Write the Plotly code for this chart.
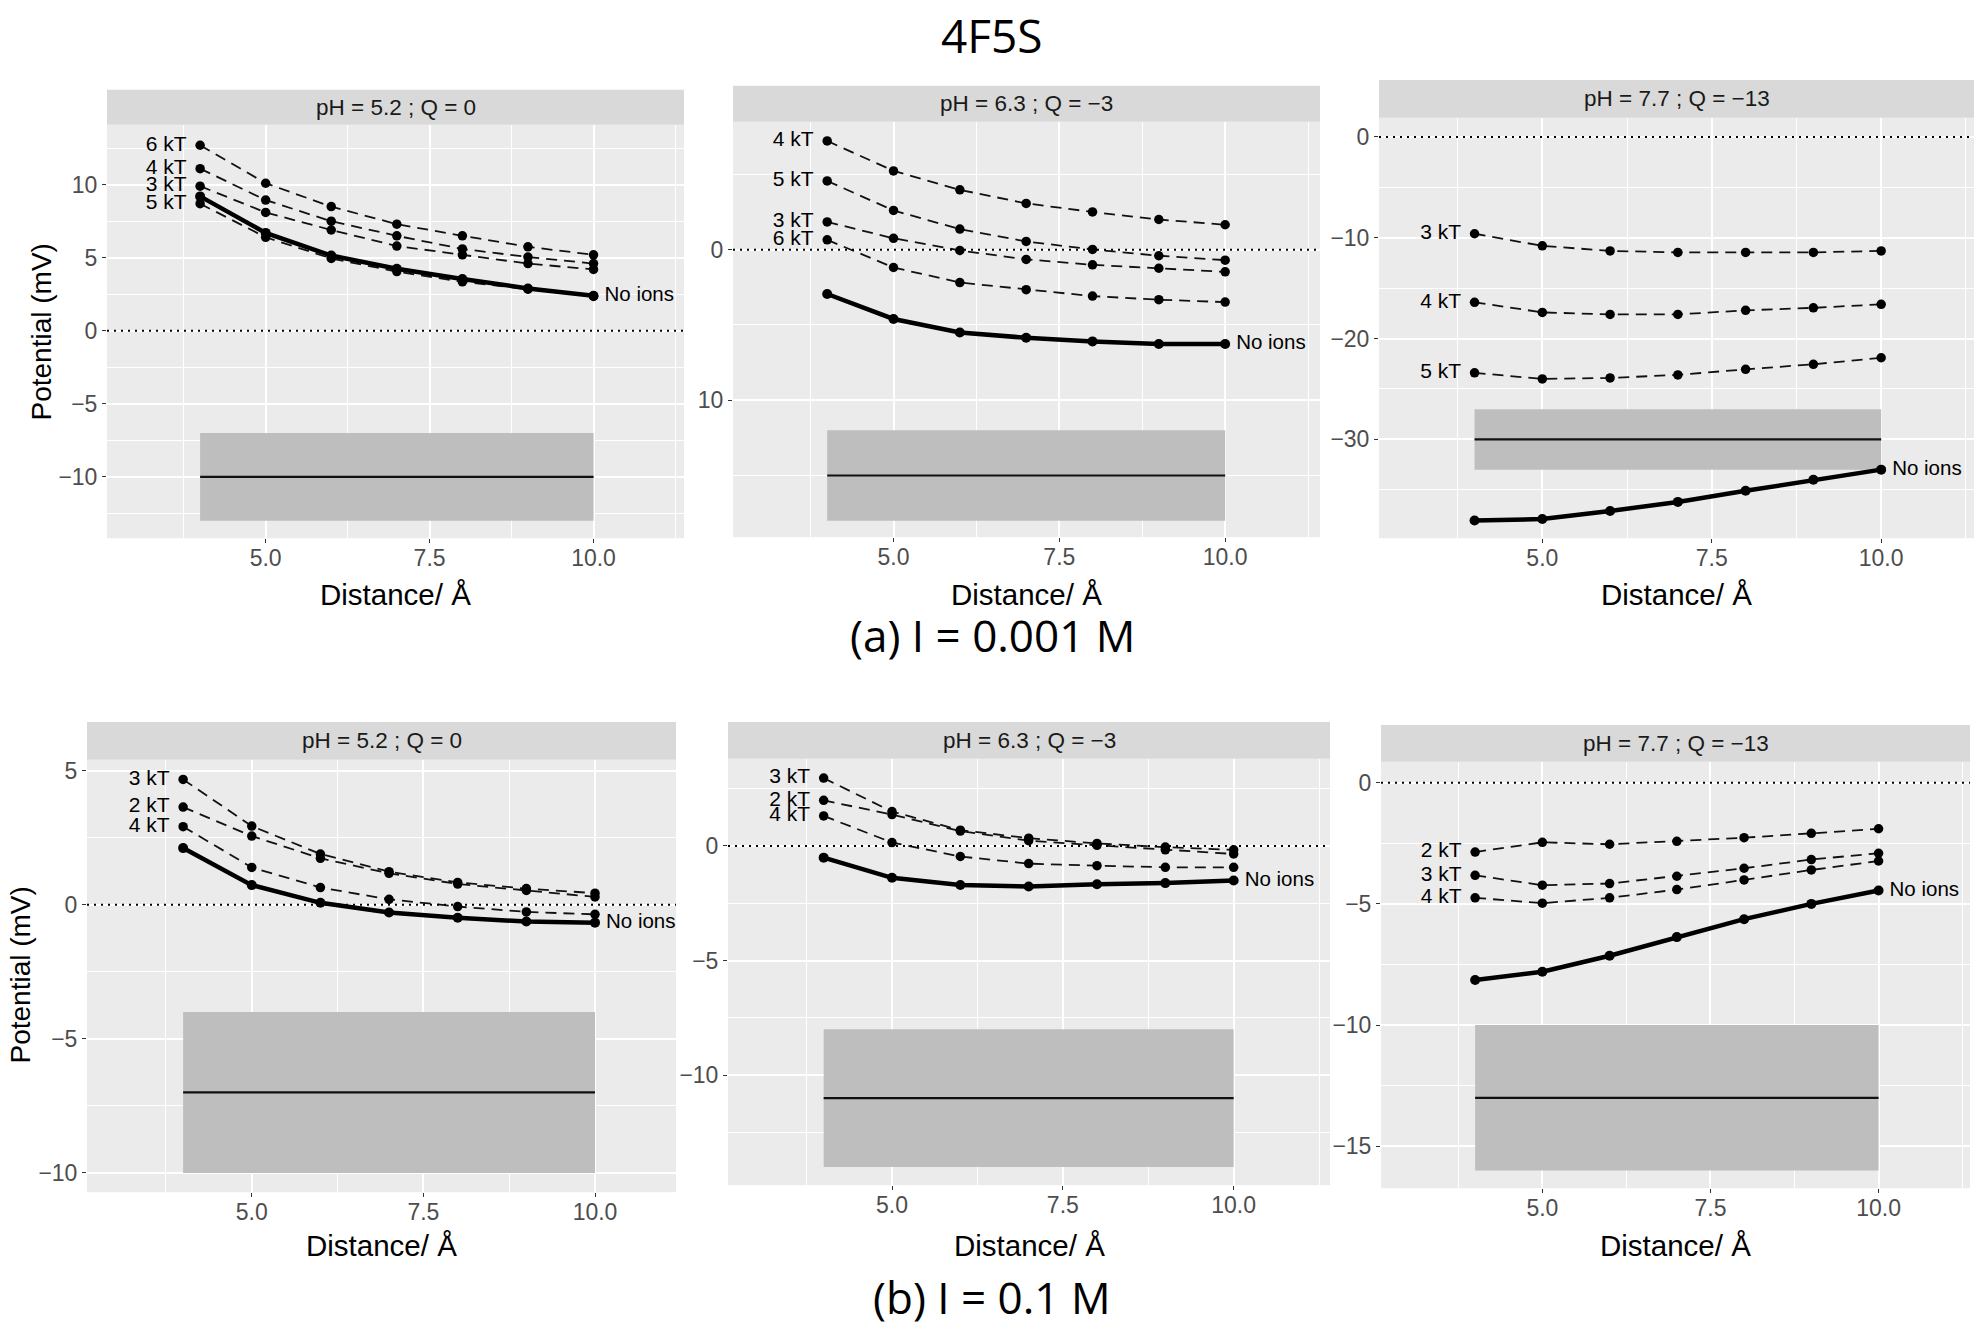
import plotly.graph_objects as go

W, H = 1984, 1329

# ---------------- data ----------------
distance = [4, 5, 6, 7, 8, 9, 10]
x_ticks = [5.0, 7.5, 10.0]
x_tick_labels = ["5.0", "7.5", "10.0"]
x_minor = [3.75, 6.25, 8.75, 11.25]

strip_labels = ["pH = 5.2 ; Q = 0", "pH = 6.3 ; Q = −3", "pH = 7.7 ; Q = −13",
                "pH = 5.2 ; Q = 0", "pH = 6.3 ; Q = −3", "pH = 7.7 ; Q = −13"]

# (a) I = 0.001 M
a1_names = ["6 kT", "4 kT", "3 kT", "5 kT"]
a1_6kT = [12.7, 10.1, 8.5, 7.3, 6.5, 5.75, 5.2]
a1_4kT = [11.1, 8.95, 7.5, 6.5, 5.6, 5.05, 4.6]
a1_3kT = [9.9, 8.1, 6.9, 5.8, 5.2, 4.6, 4.2]
a1_5kT = [8.7, 6.4, 4.95, 4.05, 3.35, 2.85, 2.35]
a1_noions = [9.2, 6.7, 5.15, 4.25, 3.55, 2.9, 2.4]
a1_box_median = -10

a2_names = ["4 kT", "5 kT", "3 kT", "6 kT"]
a2_4kT = [7.23, 5.24, 3.98, 3.08, 2.51, 2.01, 1.66]
a2_5kT = [4.57, 2.61, 1.37, 0.55, 0.02, -0.40, -0.69]
a2_3kT = [1.85, 0.76, -0.05, -0.64, -1.0, -1.23, -1.47]
a2_6kT = [0.66, -1.18, -2.18, -2.65, -3.08, -3.32, -3.48]
a2_noions = [-2.94, -4.6, -5.5, -5.85, -6.09, -6.26, -6.26]
a2_box_median = -15

a3_names = ["3 kT", "4 kT", "5 kT"]
a3_3kT = [-9.6, -10.8, -11.3, -11.45, -11.45, -11.45, -11.3]
a3_4kT = [-16.4, -17.4, -17.6, -17.6, -17.2, -16.95, -16.6]
a3_5kT = [-23.4, -24.0, -23.9, -23.6, -23.05, -22.55, -21.9]
a3_noions = [-38.05, -37.9, -37.1, -36.2, -35.1, -34.0, -33.0]
a3_box_median = -30

# (b) I = 0.1 M
b1_names = ["3 kT", "2 kT", "4 kT"]
b1_3kT = [4.67, 2.93, 1.89, 1.23, 0.83, 0.6, 0.43]
b1_2kT = [3.64, 2.56, 1.73, 1.17, 0.77, 0.53, 0.29]
b1_4kT = [2.91, 1.39, 0.64, 0.2, -0.07, -0.27, -0.36]
b1_noions = [2.11, 0.73, 0.07, -0.29, -0.49, -0.63, -0.67]
b1_box_median = -7

b2_names = ["3 kT", "2 kT", "4 kT"]
b2_3kT = [2.96, 1.5, 0.69, 0.34, 0.11, -0.05, -0.17]
b2_2kT = [1.99, 1.37, 0.65, 0.23, 0.03, -0.17, -0.35]
b2_4kT = [1.31, 0.15, -0.46, -0.77, -0.86, -0.93, -0.93]
b2_noions = [-0.51, -1.39, -1.70, -1.77, -1.67, -1.62, -1.51]
b2_box_median = -11

b3_names = ["2 kT", "3 kT", "4 kT"]
b3_2kT = [-2.86, -2.46, -2.54, -2.42, -2.27, -2.09, -1.90]
b3_3kT = [-3.82, -4.23, -4.16, -3.86, -3.53, -3.17, -2.91]
b3_4kT = [-4.75, -4.97, -4.75, -4.41, -4.01, -3.6, -3.23]
b3_noions = [-8.14, -7.8, -7.14, -6.37, -5.63, -5.0, -4.45]
b3_box_median = -13

box_half_height = 3

# y-axis ticks per panel
a1_yticks = [-10, -5, 0, 5, 10]
a1_ytext = ["−10", "−5", "0", "5", "10"]
a1_yminor = [-12.5, -7.5, -2.5, 2.5, 7.5, 12.5]
a2_yticks = [-10, 0]
a2_ytext = ["10", "0"]
a2_yminor = [-15, -5, 5]
a3_yticks = [-30, -20, -10, 0]
a3_ytext = ["−30", "−20", "−10", "0"]
a3_yminor = [-35, -25, -15, -5]
b1_yticks = [-10, -5, 0, 5]
b1_ytext = ["−10", "−5", "0", "5"]
b1_yminor = [-7.5, -2.5, 2.5]
b2_yticks = [-10, -5, 0]
b2_ytext = ["−10", "−5", "0"]
b2_yminor = [-12.5, -7.5, -2.5, 2.5]
b3_yticks = [-15, -10, -5, 0]
b3_ytext = ["−15", "−10", "−5", "0"]
b3_yminor = [-12.5, -7.5, -2.5]

# ---------------- layout geometry (pixels) ----------------
panels = [
    dict(names=a1_names, series=[a1_6kT, a1_4kT, a1_3kT, a1_5kT], noions=a1_noions, med=a1_box_median,
         yt=a1_yticks, ytx=a1_ytext, ym=a1_yminor,
         px=(107, 684), py=(123, 537), sy=(88, 123), xr=(2.58, 11.38), yr=(-14.2, 14.1)),
    dict(names=a2_names, series=[a2_4kT, a2_5kT, a2_3kT, a2_6kT], noions=a2_noions, med=a2_box_median,
         yt=a2_yticks, ytx=a2_ytext, ym=a2_yminor,
         px=(733, 1320), py=(120, 536), sy=(84, 120), xr=(2.58, 11.43), yr=(-19.1, 8.5)),
    dict(names=a3_names, series=[a3_3kT, a3_4kT, a3_5kT], noions=a3_noions, med=a3_box_median,
         yt=a3_yticks, ytx=a3_ytext, ym=a3_yminor,
         px=(1379, 1974), py=(116, 537), sy=(78, 116), xr=(2.59, 11.37), yr=(-39.8, 1.9)),
    dict(names=b1_names, series=[b1_3kT, b1_2kT, b1_4kT], noions=b1_noions, med=b1_box_median,
         yt=b1_yticks, ytx=b1_ytext, ym=b1_yminor,
         px=(87, 676), py=(759, 1192), sy=(721, 759), xr=(2.6, 11.18), yr=(-10.72, 5.4)),
    dict(names=b2_names, series=[b2_3kT, b2_2kT, b2_4kT], noions=b2_noions, med=b2_box_median,
         yt=b2_yticks, ytx=b2_ytext, ym=b2_yminor,
         px=(728, 1330), py=(758, 1185), sy=(721, 758), xr=(2.6, 11.41), yr=(-14.8, 3.8)),
    dict(names=b3_names, series=[b3_2kT, b3_3kT, b3_4kT], noions=b3_noions, med=b3_box_median,
         yt=b3_yticks, ytx=b3_ytext, ym=b3_yminor,
         px=(1381, 1970), py=(761, 1188), sy=(724, 761), xr=(2.6, 11.36), yr=(-16.73, 0.86)),
]

FONT = "Liberation Sans, Arial, Helvetica, sans-serif"
CAPFONT = "Open Sans, Noto Sans, sans-serif"
DASH = "11px,7px"

fig = go.Figure()
layout = dict(width=W, height=H, margin=dict(l=0, r=0, t=0, b=0),
              paper_bgcolor="white", plot_bgcolor="#ebebeb", showlegend=False,
              font=dict(family=FONT, color="#1a1a1a"))
shapes, annotations = [], []

def fx(p):
    return p / W

def fy(p):
    return 1 - p / H

axis_common = dict(tickmode="array", showgrid=True, gridcolor="white", gridwidth=1.5,
                   zeroline=False, showline=False, ticks="outside", ticklen=4, tickwidth=1.2,
                   tickcolor="#333333", tickfont=dict(size=23, color="#4d4d4d", family=FONT))

for i, P in enumerate(panels, start=1):
    sfx = "" if i == 1 else str(i)
    xa, ya = "x" + sfx, "y" + sfx
    # box (grey band with median line)
    d0, d1 = min(distance), max(distance)
    lo, hi = P["med"] - box_half_height, P["med"] + box_half_height
    fig.add_trace(go.Scatter(x=[d0, d1, d1, d0, d0], y=[lo, lo, hi, hi, lo], mode="lines",
                             fill="toself", fillcolor="#bebebe", line=dict(width=0),
                             xaxis=xa, yaxis=ya, hoverinfo="skip"))
    fig.add_trace(go.Scatter(x=[d0, d1], y=[P["med"], P["med"]], mode="lines",
                             line=dict(color="#111111", width=2.2), xaxis=xa, yaxis=ya))
    # dashed ion series
    for s in P["series"]:
        fig.add_trace(go.Scatter(x=distance, y=s, mode="lines+markers",
                                 line=dict(color="#111111", width=1.8, dash=DASH),
                                 marker=dict(color="#000000", size=9.5),
                                 xaxis=xa, yaxis=ya))
    # no ions
    fig.add_trace(go.Scatter(x=distance, y=P["noions"], mode="lines+markers",
                             line=dict(color="#000000", width=4.5),
                             marker=dict(color="#000000", size=10),
                             xaxis=xa, yaxis=ya))
    # labels
    fig.add_trace(go.Scatter(x=[distance[0]] * len(P["names"]), y=[s[0] for s in P["series"]],
                             text=P["names"], mode="markers+text", textposition="middle left",
                             marker=dict(size=20, color="rgba(0,0,0,0)"),
                             textfont=dict(size=21, color="#000000", family=FONT),
                             xaxis=xa, yaxis=ya, hoverinfo="skip"))
    fig.add_trace(go.Scatter(x=[distance[-1]], y=[P["noions"][-1]], text=["No ions"],
                             mode="markers+text", textposition="middle right",
                             marker=dict(size=16, color="rgba(0,0,0,0)"),
                             textfont=dict(size=20.5, color="#000000", family=FONT),
                             xaxis=xa, yaxis=ya, hoverinfo="skip"))

    layout["xaxis" + sfx] = dict(axis_common, domain=[fx(P["px"][0]), fx(P["px"][1])], anchor=ya,
                                 range=list(P["xr"]), tickvals=x_ticks, ticktext=x_tick_labels,
                                 ticklabelstandoff=-5,
                                 minor=dict(tickmode="array", tickvals=x_minor, showgrid=True,
                                            gridcolor="white", gridwidth=0.7, ticks=""))
    layout["yaxis" + sfx] = dict(axis_common, domain=[fy(P["py"][1]), fy(P["py"][0])], anchor=xa,
                                 range=list(P["yr"]), tickvals=P["yt"], ticktext=P["ytx"],
                                 minor=dict(tickmode="array", tickvals=P["ym"], showgrid=True,
                                            gridcolor="white", gridwidth=0.7, ticks=""))
    # zero reference line
    shapes.append(dict(type="line", xref=f"{xa} domain", yref=ya, x0=0, x1=1, y0=0, y1=0,
                       line=dict(color="#000000", width=2, dash="2px,5px"), layer="above"))
    # strip
    shapes.append(dict(type="rect", xref="paper", yref="paper",
                       x0=fx(P["px"][0]), x1=fx(P["px"][1]), y0=fy(P["sy"][1]), y1=fy(P["sy"][0]),
                       fillcolor="#d9d9d9", line=dict(width=0), layer="below"))
    annotations.append(dict(text=strip_labels[i - 1], xref="paper", yref="paper",
                            x=fx((P["px"][0] + P["px"][1]) / 2), y=fy((P["sy"][0] + P["sy"][1]) / 2),
                            showarrow=False, xanchor="center", yanchor="middle",
                            font=dict(size=22.5, color="#1a1a1a", family=FONT)))
    # x axis title
    title_y = 593 if i <= 3 else 1245
    annotations.append(dict(text="Distance/ Å", xref="paper", yref="paper",
                            x=fx((P["px"][0] + P["px"][1]) / 2), y=fy(title_y),
                            showarrow=False, xanchor="center", yanchor="middle",
                            font=dict(size=29.5, color="#000000", family=FONT)))

# y axis titles
for cx, cy in ((42, 331), (21, 975)):
    annotations.append(dict(text="Potential (mV)", xref="paper", yref="paper", x=fx(cx), y=fy(cy),
                            showarrow=False, textangle=-90, xanchor="center", yanchor="middle",
                            font=dict(size=28, color="#000000", family=FONT)))

annotations.append(dict(text="4F5S", xref="paper", yref="paper", x=0.5, y=1,
                        showarrow=False, xanchor="center", yanchor="top",
                        font=dict(size=46, color="#000000", family=CAPFONT)))
annotations.append(dict(text="(a) I = 0.001 M", xref="paper", yref="paper", x=0.5, y=fy(634),
                        showarrow=False, xanchor="center", yanchor="middle",
                        font=dict(size=44, color="#000000", family=CAPFONT)))
annotations.append(dict(text="(b) I = 0.1 M", xref="paper", yref="paper", x=0.5, y=0,
                        showarrow=False, xanchor="center", yanchor="bottom",
                        font=dict(size=44, color="#000000", family=CAPFONT)))

layout["shapes"] = shapes
layout["annotations"] = annotations
fig.update_layout(**layout)
fig.write_html("out.html", config={"displayModeBar": False},
               post_script="document.body.style.margin='0';document.body.style.overflow='hidden';")
